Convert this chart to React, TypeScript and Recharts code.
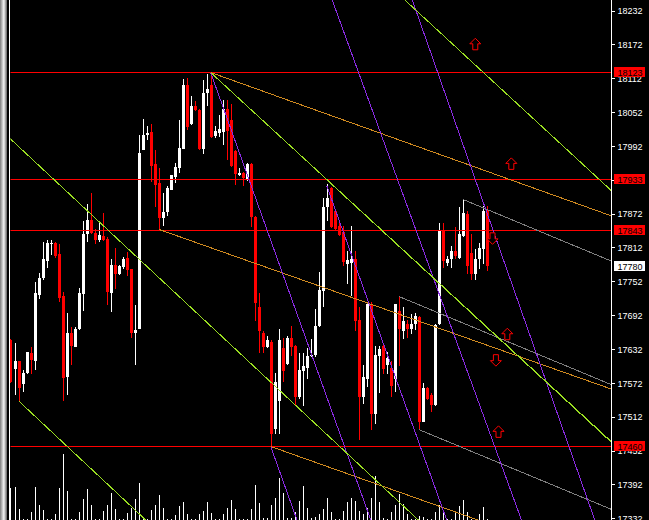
import React from 'react';
import { ComposedChart, Bar, XAxis, YAxis, ReferenceLine, ReferenceDot } from 'recharts';

const FONT = 'Liberation Sans, Arial, sans-serif';

// ---- candle data (index 0..119) ----
const opens = [17648,17598,17611,17570,17591,17625,17612,17728,17758,17789,17819,17821,17801,17726,17584,17662,17637,17668,17730,17837,17861,17838,17826,17833,17828,17732,17781,17765,17778,17794,17774,17662,17669,17986,18013,18018,17961,17927,17865,17876,17915,17938,17954,17988,18100,18032,18064,18057,17988,18086,18100,18011,18016,18018,18059,18038,17984,17942,17945,17934,17961,17867,17708,17662,17637,17646,17491,17540,17634,17607,17652,17639,17547,17593,17600,17620,17623,17673,17735,17885,17918,17877,17851,17840,17783,17785,17792,17684,17548,17579,17712,17518,17621,17639,17605,17600,17580,17700,17664,17678,17669,17678,17689,17504,17564,17552,17534,17678,17842,17785,17792,17806,17794,17833,17872,17803,17765,17792,17810,17877];
const highs = [17650,17644,17612,17595,17628,17636,17751,17767,17822,17826,17826,17822,17819,17733,17696,17671,17671,17741,17860,17890,17910,17845,17860,17874,17831,17792,17812,17781,17796,17805,17775,17710,18013,18041,18029,18032,17986,17954,17910,17922,17942,17963,18038,18112,18114,18082,18073,18059,18109,18121,18123,18029,18048,18075,18075,18068,17986,17954,17947,17963,17963,17869,17732,17664,17655,17648,17591,17669,17652,17655,17673,17640,17625,17625,17634,17650,17703,17769,17901,17925,17920,17878,17858,17851,17806,17851,17806,17708,17605,17714,17717,17639,17639,17643,17628,17611,17713,17726,17708,17685,17694,17696,17691,17572,17566,17554,17677,17856,17856,17797,17815,17849,17885,17899,17877,17837,17810,17821,17886,17886];
const lows = [17573,17552,17541,17556,17588,17589,17595,17721,17756,17776,17799,17794,17716,17541,17552,17605,17636,17667,17701,17822,17837,17819,17822,17824,17710,17698,17739,17764,17774,17762,17652,17605,17668,17985,18004,17929,17885,17845,17851,17869,17914,17927,17945,17987,18021,18030,18055,17986,17979,18064,18007,18007,18009,17995,17968,17956,17924,17940,17922,17931,17849,17682,17625,17625,17634,17460,17483,17483,17575,17605,17620,17532,17545,17531,17580,17619,17619,17672,17708,17860,17847,17842,17833,17780,17748,17726,17664,17472,17536,17566,17490,17499,17554,17589,17589,17548,17557,17602,17650,17652,17660,17666,17490,17503,17543,17522,17532,17676,17776,17780,17776,17792,17792,17832,17765,17756,17756,17774,17783,17771];
const closes = [17575,17612,17564,17591,17627,17614,17732,17758,17792,17821,17821,17797,17724,17582,17662,17639,17669,17732,17837,17861,17838,17826,17835,17826,17733,17781,17765,17780,17792,17773,17662,17666,17981,18013,18016,17958,17924,17865,17876,17918,17941,17956,17990,18100,18027,18064,18057,17988,18087,18093,18009,18020,18022,18059,18020,17958,17943,17945,17936,17961,17867,17714,17664,17637,17648,17483,17575,17648,17593,17653,17636,17548,17596,17602,17621,17623,17673,17737,17885,17901,17849,17845,17835,17787,17790,17792,17682,17548,17584,17712,17518,17623,17632,17598,17616,17568,17712,17668,17682,17669,17678,17691,17504,17563,17545,17534,17676,17842,17789,17792,17806,17797,17837,17874,17780,17765,17792,17812,17877,17780];
const volumes = [320,330,110,10,10,80,330,150,100,10,10,60,320,660,290,10,10,80,210,310,150,10,10,90,150,270,110,10,10,70,120,210,370,20,10,100,150,250,120,10,10,50,140,180,60,10,10,60,90,180,70,10,10,60,120,200,110,10,10,10,110,350,170,20,20,150,220,420,270,20,20,80,190,340,120,20,30,60,110,220,80,10,10,90,180,220,190,90,60,120,220,440,180,20,10,80,150,260,160,60,10,10,40,30,10,10,80,150,80,10,10,80,140,200,80,10,10,60,130,10];

// ---- axis / levels ----
const yTicks = [17332,17392,17452,17512,17572,17632,17692,17752,17812,17872,17932,17992,18052,18112,18172,18232];
const levelLines = [18123, 17933, 17843, 17460];
const lastPrice = 17780;
const tagValues = [18123, 17933, 17843, 17460, 17780];

// ---- trend lines: [index1, price1, index2, price2] ----
const greenLines = [[-3,18025,105,17309],[2,17541,36,17315],[50,18123,152,17456],[79,17933,152,17455],[96,18268,152,17901]];
const orangeLines = [[50,18123,152,17864],[37,17845,152,17557],[65,17460,125,17309]];
const purpleLines = [[50,18123,92,17290],[79,17922,110,17309],[65,17460,73,17301],[79,18278,131,17264],[99,18279,148,17288]];
const grayLines = [[113,17898,152,17783],[97,17726,152,17564],[102,17490,152,17343]];

// ---- arrow objects ----
const arrowIdx = [116.1, 125.1, 120.4, 124.1, 121.25, 121.9];
const arrowPrice = [18173, 17961, 17829, 17659, 17613, 17486];
const arrowDir = ['up','up','down','up','down','up'];

const X_DOMAIN: [number, number] = [0, 150.125];
const Y_DOMAIN: [number, number] = [17329.7, 18251.5];
const VOL_DOMAIN: [number, number] = [0, 5200];

const GREEN = '#9ade22';
const ORANGE = '#d08a20';
const PURPLE = '#8a2be2';
const GRAY = '#808080';

const data = opens.map((o, i) => ({ i, o, h: highs[i], l: lows[i], c: closes[i], v: volumes[i] }));

const snapRow = (y: number) => Math.floor(y + 0.1) + 0.5;

const CandleShape = (props: any) => {
  const { x, y, width, height, payload } = props;
  if (x == null || y == null) return null;
  const { o, h, l, c } = payload;
  const cx = x + width / 2;
  const range = h - l;
  const k = range > 0 ? height / range : 0;
  const yOf = (v: number) => y + (h - v) * k;
  const up = c >= o;
  const color = up ? '#ffffff' : '#ff0000';
  const top = yOf(Math.max(o, c));
  const bot = yOf(Math.min(o, c));
  return (
    <g>
      <line x1={cx} x2={cx} y1={y} y2={y + height} stroke={color} strokeWidth={1} shapeRendering="crispEdges" />
      <rect x={cx - 1.5} y={top} width={3} height={Math.max(bot - top, 1)} fill={color} shapeRendering="crispEdges" />
    </g>
  );
};

const VolShape = (props: any) => {
  const { x, y, width, height } = props;
  if (x == null || y == null) return null;
  const cx = x + width / 2;
  return <line x1={cx} x2={cx} y1={y} y2={y + height} stroke="#ffffff" strokeWidth={1} shapeRendering="crispEdges" />;
};

const PriceTick = (props: any) => {
  const { x, y, payload } = props;
  if (x == null || y == null || !payload) return null;
  const v = payload.value;
  if (tagValues.includes(v)) {
    const isLast = v === lastPrice;
    const bx = x - 3.5;
    const yy = snapRow(y);
    return (
      <g>
        <rect x={bx} y={yy - 5.5} width={31} height={10} fill={isLast ? '#ffffff' : '#ff0000'} />
        <text x={x} y={yy} dy="0.36em" fill="#000000" fontSize={9} fontFamily={FONT}>{String(v)}</text>
      </g>
    );
  }
  return (
    <g>
      <line x1={x - 6} x2={x - 3} y1={y} y2={y} stroke="#ffffff" strokeWidth={1} shapeRendering="crispEdges" />
      <text x={x} y={y} dy="0.36em" fill="#ffffff" fontSize={9} fontFamily={FONT}>{String(v)}</text>
    </g>
  );
};

const HLineShape = (p: any) => {
  if (p.y1 == null) return null;
  const y = snapRow(p.y1);
  return <line x1={p.x1} x2={p.x2} y1={y} y2={y} stroke="#ff0000" strokeWidth={1} />;
};

const makeSegShape = (color: string) => (p: any) => {
  if (p.x1 == null) return null;
  return <line x1={p.x1} y1={p.y1} x2={p.x2} y2={p.y2} stroke={color} strokeWidth={1} shapeRendering="crispEdges" clipPath={p.clipPath} />;
};
const greenShape = makeSegShape(GREEN);
const orangeShape = makeSegShape(ORANGE);
const purpleShape = makeSegShape(PURPLE);
const grayShape = makeSegShape(GRAY);

const Arrow = (props: any) => {
  const { cx, cy, dir } = props;
  if (cx == null || cy == null) return null;
  const s = dir === 'up' ? 1 : -1;
  const pts = [[0,-6],[5.5,-0.5],[2.5,-0.5],[2.5,5.5],[-2.5,5.5],[-2.5,-0.5],[-5.5,-0.5]]
    .map(([a, b]) => `${cx + a},${cy + b * s}`).join(' ');
  return <polygon points={pts} fill="#000" stroke="#ff0000" strokeWidth={1} />;
};

const seg = (l: number[]) => [{ x: l[0], y: l[1] }, { x: l[2], y: l[3] }];

export default function App() {
  return (
    <div style={{ position: 'absolute', left: 0, top: 0, width: 649, height: 520, background: '#000', overflow: 'hidden', fontFamily: FONT }}>
      <ComposedChart width={649} height={520} data={data} margin={{ top: 0, right: 0, bottom: 0, left: 10.5 }}>
        <XAxis xAxisId="c" dataKey="i" type="number" domain={X_DOMAIN} hide />
        <XAxis xAxisId="v" dataKey="i" type="number" domain={X_DOMAIN} hide />
        <YAxis yAxisId="vol" type="number" domain={VOL_DOMAIN} hide allowDataOverflow />
        <YAxis
          yAxisId="p"
          orientation="right"
          type="number"
          domain={Y_DOMAIN}
          allowDataOverflow
          ticks={[...yTicks, ...tagValues]}
          interval={0}
          width={37.5}
          tickSize={3}
          tickMargin={3}
          axisLine={{ stroke: '#ffffff' }}
          tickLine={false}
          tick={PriceTick}
        />
        <Bar xAxisId="v" yAxisId="vol" dataKey="v" barSize={3} shape={VolShape} isAnimationActive={false} />
        <Bar xAxisId="c" yAxisId="p" dataKey={(d: any) => [d.l, d.h]} barSize={3} shape={CandleShape} isAnimationActive={false} />
        {levelLines.map((v) => (
          <ReferenceLine key={'lv' + v} xAxisId="c" yAxisId="p" y={v} stroke="#ff0000" shape={HLineShape} />
        ))}
        {grayLines.map((l, k) => (
          <ReferenceLine key={'g' + k} xAxisId="c" yAxisId="p" segment={seg(l)} ifOverflow="hidden" stroke={GRAY} shape={grayShape} />
        ))}
        {orangeLines.map((l, k) => (
          <ReferenceLine key={'o' + k} xAxisId="c" yAxisId="p" segment={seg(l)} ifOverflow="hidden" stroke={ORANGE} shape={orangeShape} />
        ))}
        {purpleLines.map((l, k) => (
          <ReferenceLine key={'p' + k} xAxisId="c" yAxisId="p" segment={seg(l)} ifOverflow="hidden" stroke={PURPLE} shape={purpleShape} />
        ))}
        {greenLines.map((l, k) => (
          <ReferenceLine key={'gr' + k} xAxisId="c" yAxisId="p" segment={seg(l)} ifOverflow="hidden" stroke={GREEN} shape={greenShape} />
        ))}
        {arrowIdx.map((ix, k) => (
          <ReferenceDot key={'a' + k} xAxisId="c" yAxisId="p" x={ix} y={arrowPrice[k]} r={5}
            shape={(p: any) => <Arrow {...p} dir={arrowDir[k]} />} />
        ))}
      </ComposedChart>
      <div style={{ position: 'absolute', left: 0, top: 0, width: 7, height: 520, background: 'linear-gradient(to right, #7a7a7a 0%, #c8c8c8 35%, #f4f4f4 55%, #a0a0a0 80%, #606060 100%)' }} />
      <div style={{ position: 'absolute', left: 9, top: 0, width: 1, height: 520, background: '#ffffff' }} />
    </div>
  );
}
